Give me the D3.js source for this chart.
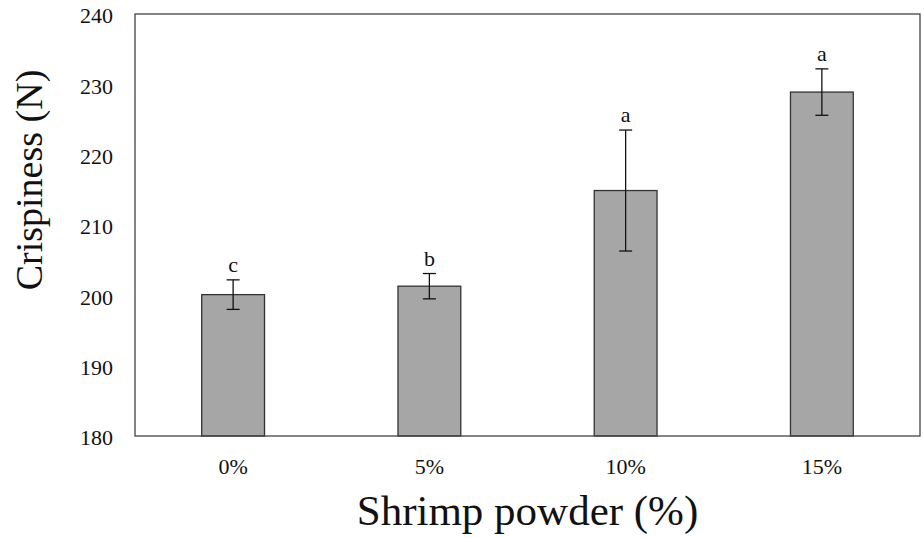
<!DOCTYPE html>
<html>
<head>
<meta charset="utf-8">
<script src="https://cdn.jsdelivr.net/npm/d3@7"></script>
<style>
  body { margin: 0; background: #fff; }
  svg text { font-family: "Liberation Serif", "Times New Roman", serif; fill: #111; }
</style>
</head>
<body>
<div class="chart-area"></div>
<script>
// Crispiness vs shrimp powder level
const categories = ["0%", "5%", "10%", "15%"];
const means = [200.1, 201.3, 214.9, 228.9];
const errors = [2.1, 1.8, 8.6, 3.3];
const letters = ["c", "b", "a", "a"];
const yTicks = [180, 190, 200, 210, 220, 230, 240];

const margin = { top: 14, right: 4, bottom: 102, left: 135 },
    width = 924 - margin.left - margin.right,
    height = 538 - margin.top - margin.bottom;

const svg = d3.select(".chart-area")
    .append("svg")
    .attr("width", 924)
    .attr("height", 538)
    .append("g")
    .attr("transform", `translate(${margin.left},${margin.top})`);

const x = d3.scaleBand()
    .domain(categories)
    .range([0, width])
    .paddingInner(0.68)
    .paddingOuter(0.34);

const y = d3.scaleLinear().domain([180, 240]).range([height, 0]);

// y axis labels (no tick marks)
const yAxis = svg.append("g")
    .call(d3.axisLeft(y).tickValues(yTicks).tickSize(0).tickPadding(22));
yAxis.attr("font-family", null);
yAxis.select(".domain").remove();
yAxis.selectAll("text")
    .attr("font-size", 22)
    .attr("dy", "0.4em");

// x axis labels
const xAxis = svg.append("g")
    .attr("transform", `translate(0,${height})`)
    .call(d3.axisBottom(x).tickSize(0).tickPadding(22));
xAxis.attr("font-family", null);
xAxis.select(".domain").remove();
xAxis.selectAll("text")
    .attr("font-size", 22)
    .attr("dy", "0.71em");

// bars
svg.selectAll("rect.bar")
    .data(categories)
    .enter()
    .append("rect")
    .attr("class", "bar")
    .attr("x", d => x(d))
    .attr("y", (d, i) => y(means[i]))
    .attr("width", x.bandwidth())
    .attr("height", (d, i) => y(180) - y(means[i]))
    .attr("fill", "#a6a6a6")
    .attr("stroke", "#333")
    .attr("stroke-width", 1.3);

// error bars
const capW = 6.5;
const err = svg.selectAll("g.err")
    .data(categories)
    .enter()
    .append("g")
    .attr("class", "err")
    .attr("stroke", "#111")
    .attr("stroke-width", 1.3);
err.append("line")
    .attr("x1", d => x(d) + x.bandwidth() / 2)
    .attr("x2", d => x(d) + x.bandwidth() / 2)
    .attr("y1", (d, i) => y(means[i] + errors[i]))
    .attr("y2", (d, i) => y(means[i] - errors[i]));
[1, -1].forEach(s => {
    err.append("line")
        .attr("x1", d => x(d) + x.bandwidth() / 2 - capW)
        .attr("x2", d => x(d) + x.bandwidth() / 2 + capW)
        .attr("y1", (d, i) => y(means[i] + s * errors[i]))
        .attr("y2", (d, i) => y(means[i] + s * errors[i]));
});

// significance letters
svg.selectAll("text.sig")
    .data(categories)
    .enter()
    .append("text")
    .attr("class", "sig")
    .attr("x", d => x(d) + x.bandwidth() / 2)
    .attr("y", (d, i) => y(means[i] + errors[i]) - 8)
    .attr("text-anchor", "middle")
    .attr("font-size", 22)
    .text((d, i) => letters[i]);

// frame
svg.append("rect")
    .attr("width", width)
    .attr("height", height)
    .attr("fill", "none")
    .attr("stroke", "#444")
    .attr("stroke-width", 1.3);

// axis titles
svg.append("text")
    .attr("x", width / 2)
    .attr("y", 511)
    .attr("text-anchor", "middle")
    .attr("font-size", 43)
    .text("Shrimp powder (%)");

svg.append("text")
    .attr("transform", `translate(${42 - margin.left},${180 - margin.top}) rotate(-90)`)
    .attr("text-anchor", "middle")
    .attr("font-size", 38)
    .text("Crispiness (N)");
</script>
</body>
</html>
